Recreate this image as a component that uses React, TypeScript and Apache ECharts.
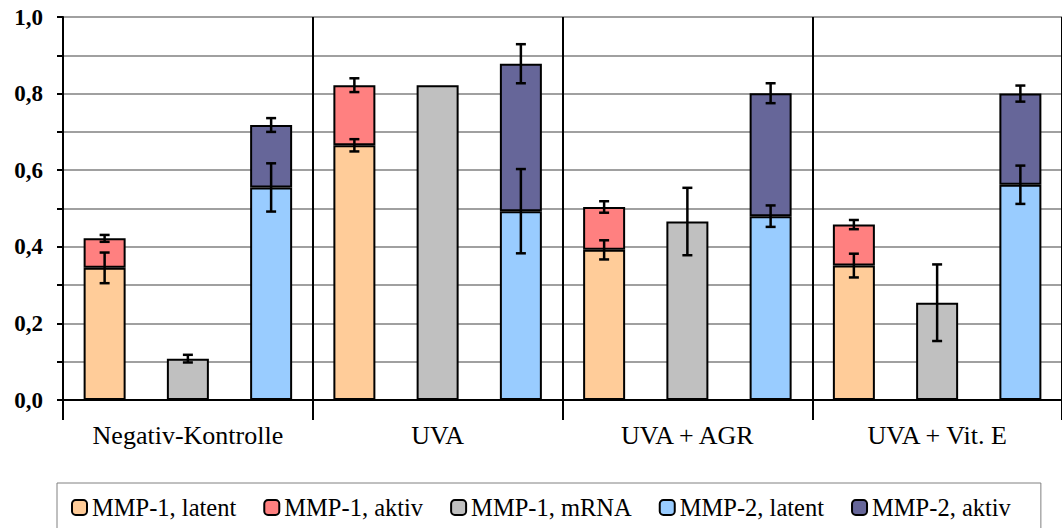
import React, { useEffect, useRef } from "react";
import * as echarts from "echarts";

const groups = ["Negativ-Kontrolle", "UVA", "UVA + AGR", "UVA + Vit. E"];
const yTicks = [0, 0.1, 0.2, 0.3, 0.4, 0.5, 0.6, 0.7, 0.8, 0.9, 1.0];

const mmp1Latent = [0.345, 0.665, 0.392, 0.351];
const mmp1LatentErr = [0.04, 0.016, 0.025, 0.031];
const mmp1Aktiv = [0.077, 0.157, 0.112, 0.107];
const mmp1AktivErr = [0.009, 0.018, 0.015, 0.012];
const mmp1mRNA = [0.108, 0.822, 0.466, 0.254];
const mmp1mRNAErr = [0.01, 0, 0.088, 0.1];
const mmp2Latent = [0.555, 0.493, 0.48, 0.562];
const mmp2LatentErr = [0.063, 0.11, 0.028, 0.05];
const mmp2Aktiv = [0.163, 0.385, 0.321, 0.238];
const mmp2AktivErr = [0.018, 0.051, 0.026, 0.021];

const FONT = "serif";

export default function App() {
  const ref = useRef<HTMLDivElement>(null);

  useEffect(() => {
    if (!ref.current) return;
    const chart = echarts.init(ref.current, null, { renderer: "svg" });

    const slots = groups.flatMap((g) => [g + "|1", g + "|m", g + "|2"]);
    const place = (vals: number[], offset: number) =>
      slots.map((_, i) => (i % 3 === offset ? vals[Math.floor(i / 3)] : "-"));

    const errData: number[][] = [];
    groups.forEach((_, g) => {
      errData.push([g * 3, mmp1Latent[g], mmp1LatentErr[g]]);
      errData.push([g * 3, mmp1Latent[g] + mmp1Aktiv[g], mmp1AktivErr[g]]);
      if (mmp1mRNAErr[g] > 0) errData.push([g * 3 + 1, mmp1mRNA[g], mmp1mRNAErr[g]]);
      errData.push([g * 3 + 2, mmp2Latent[g], mmp2LatentErr[g]]);
      errData.push([g * 3 + 2, mmp2Latent[g] + mmp2Aktiv[g], mmp2AktivErr[g]]);
    });

    const barBase = (name: string, color: string, stack: string, data: any[]) => ({
      name,
      type: "bar",
      xAxisIndex: 0,
      yAxisIndex: 0,
      stack,
      barWidth: 42,
      barGap: "-100%",
      data,
      itemStyle: { color, borderColor: "#000", borderWidth: 2 },
    });

    chart.setOption({
      animation: false,
      backgroundColor: "#fff",
      textStyle: { fontFamily: FONT },
      grid: { left: 63, top: 17, width: 1000, height: 383 },
      legend: {
        left: 57,
        top: 483,
        orient: "horizontal",
        itemWidth: 15,
        itemHeight: 15,
        itemGap: 27,
        padding: [12, 30, 14, 14],
        borderColor: "#808080",
        borderWidth: 1,
        textStyle: { fontFamily: FONT, fontSize: 24.5, color: "#000" },
        data: ["MMP-1, latent", "MMP-1, aktiv", "MMP-1, mRNA", "MMP-2, latent", "MMP-2, aktiv"],
      },
      xAxis: [
        {
          type: "category",
          data: slots,
          show: false,
          gridIndex: 0,
        },
        {
          type: "category",
          data: groups,
          gridIndex: 0,
          position: "bottom",
          boundaryGap: true,
          axisLine: { show: true, lineStyle: { color: "#000", width: 2 } },
          axisTick: { show: true, interval: 0, length: 20, lineStyle: { color: "#000", width: 2 } },
          splitLine: { show: true, interval: 0, lineStyle: { color: "#000", width: 2 } },
          axisLabel: { fontFamily: FONT, fontSize: 26, color: "#000", margin: 22, interval: 0 },
        },
      ],
      yAxis: {
        type: "value",
        min: 0,
        max: 1,
        interval: 0.1,
        axisLine: { show: true, lineStyle: { color: "#000", width: 2 } },
        axisTick: { show: true, length: 6, lineStyle: { color: "#000", width: 2 } },
        splitLine: { show: true, lineStyle: { color: "#808080", width: 1.5 } },
        axisLabel: {
          fontFamily: FONT,
          fontSize: 23,
          fontWeight: "bold",
          color: "#000",
          margin: 20,
          formatter: (v: number) => {
            const k = Math.round(v * 10);
            if (k % 2 !== 0) return "";
            const t = yTicks.find((x) => Math.round(x * 10) === k) ?? v;
            return t.toFixed(1).replace(".", ",");
          },
        },
      },
      series: [
        barBase("MMP-1, latent", "#FFCC99", "m1", place(mmp1Latent, 0)),
        barBase("MMP-1, aktiv", "#FF8080", "m1", place(mmp1Aktiv, 0)),
        barBase("MMP-1, mRNA", "#C0C0C0", "mr", place(mmp1mRNA, 1)),
        barBase("MMP-2, latent", "#99CCFF", "m2", place(mmp2Latent, 2)),
        barBase("MMP-2, aktiv", "#666699", "m2", place(mmp2Aktiv, 2)),
        {
          name: "err",
          type: "custom",
          xAxisIndex: 0,
          yAxisIndex: 0,
          z: 10,
          encode: { x: 0, y: 1 },
          data: errData,
          renderItem: (params: any, api: any) => {
            const x = api.value(0);
            const c = api.value(1);
            const e = api.value(2);
            const top = api.coord([x, c + e]);
            const bot = api.coord([x, c - e]);
            const hw = 5;
            const st = { stroke: "#000", lineWidth: 2.5 };
            return {
              type: "group",
              children: [
                { type: "line", shape: { x1: top[0], y1: top[1], x2: bot[0], y2: bot[1] }, style: st },
                { type: "line", shape: { x1: top[0] - hw, y1: top[1], x2: top[0] + hw, y2: top[1] }, style: st },
                { type: "line", shape: { x1: bot[0] - hw, y1: bot[1], x2: bot[0] + hw, y2: bot[1] }, style: st },
              ],
            };
          },
        },
      ],
    });

    return () => chart.dispose();
  }, []);

  return (
    <div
      ref={ref}
      style={{ position: "fixed", left: 0, top: 0, width: 1062, height: 528, background: "#fff" }}
    />
  );
}
